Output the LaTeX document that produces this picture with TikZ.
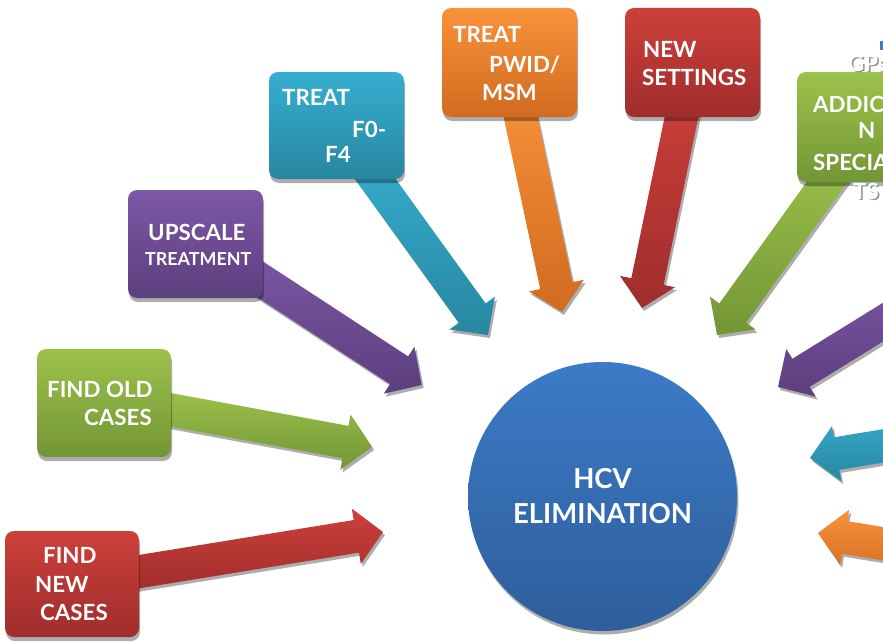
\documentclass[tikz,border=0pt]{standalone}
\usepackage{fontspec}
\setmainfont{Lato}
\usetikzlibrary{calc}

\definecolor{redtop}{HTML}{CD403A}
\definecolor{redbot}{HTML}{9F2D2D}
\definecolor{greentop}{HTML}{9CC24B}
\definecolor{greenbot}{HTML}{739636}
\definecolor{purpletop}{HTML}{7D58A6}
\definecolor{purplebot}{HTML}{5C3F7E}
\definecolor{tealtop}{HTML}{36AED0}
\definecolor{tealbot}{HTML}{2887A0}
\definecolor{orangetop}{HTML}{F9923A}
\definecolor{orangebot}{HTML}{D06B20}
\definecolor{bluetop}{HTML}{3C7BC7}
\definecolor{bluebot}{HTML}{2E5E9B}

% block arrow outline from a start point (#1) to a tip (#2)
\newcommand\arrowpoly[3]{%
  \coordinate (ab) at ($(#2)!27pt!(#1)$);
  \path[#3] ($(#1)!16.5pt!90:(#2)$) -- ($(ab)!16.5pt!90:(#2)$) -- ($(ab)!28pt!90:(#2)$) -- (#2)
    -- ($(ab)!28pt!-90:(#2)$) -- ($(ab)!16.5pt!-90:(#2)$) -- ($(#1)!16.5pt!-90:(#2)$) -- cycle;}
% shaded block arrow with its cast shadow
\newcommand\hcvarrow[3]{%
  \coordinate (sh1) at ($(#1)+(2,3)$);
  \coordinate (sh2) at ($(#2)+(2,3)$);
  \arrowpoly{sh1}{sh2}{fill=black, opacity=.32}
  \arrowpoly{#1}{#2}{top color=#3top, bottom color=#3bot}}
% rounded card: name, left, top, right, bottom, colour
\newcommand\hcvcard[6]{%
  \fill[black, opacity=.32, rounded corners=9pt] (#2+1,#3+4) rectangle (#4+1,#5+4);
  \node[cardbox, top color=#6top, bottom color=#6bot, minimum width=#4-#2, minimum height=#5-#3]
    (#1) at ({(#2+#4)/2},{(#3+#5)/2}) {};}

\begin{document}
\begin{tikzpicture}[x=1pt,y=-1pt,
  cardbox/.style={rectangle, rounded corners=9pt, inner sep=0pt, outer sep=0pt},
  lbl/.style={text=white, font=\bfseries\fontsize{22.3}{22.3}\selectfont, inner sep=0pt, anchor=base west},
  lblsmall/.style={lbl, font=\bfseries\fontsize{17.9}{17.9}\selectfont},
  lblghost/.style={lbl, text=black!45}]
\useasboundingbox (0,0) rectangle (883,642);
\clip (0,0) rectangle (883,642);

% arrow ends
\coordinate (a1t) at (383,532);   \coordinate (a1s) at ($(140,571.5)!-30pt!(a1t)$);
\coordinate (a2t) at (372,447);   \coordinate (a2s) at ($(172,410)!-30pt!(a2t)$);
\coordinate (a3t) at (421.7,385); \coordinate (a3s) at ($(255,276)!-30pt!(a3t)$);
\coordinate (a4t) at (488,335);   \coordinate (a4s) at ($(376,180)!-30pt!(a4t)$);
\coordinate (a5t) at (562,312);   \coordinate (a5s) at ($(520.5,117)!-30pt!(a5t)$);
\coordinate (a6t) at (642,308);   \coordinate (a6s) at ($(681.5,117)!-30pt!(a6t)$);
\coordinate (a7t) at (717,335);   \coordinate (a7s) at ($(827,182)!-30pt!(a7t)$);
\coordinate (a8t) at (778,387);   \coordinate (a8s) at (948,282);
\coordinate (a9t) at (810,458);   \coordinate (a9s) at (1000,426.5);
\coordinate (a10t) at (818,533);  \coordinate (a10s) at (1000,563);

\hcvarrow{a1s}{a1t}{red}
\hcvarrow{a2s}{a2t}{green}
\hcvarrow{a3s}{a3t}{purple}
\hcvarrow{a4s}{a4t}{teal}
\hcvarrow{a5s}{a5t}{orange}
\hcvarrow{a6s}{a6t}{red}
\hcvarrow{a7s}{a7t}{green}
\hcvarrow{a8s}{a8t}{purple}
\hcvarrow{a9s}{a9t}{teal}
\hcvarrow{a10s}{a10t}{orange}

% cards
\hcvcard{findnew}{5}{531}{139}{637}{red}
\hcvcard{findold}{37}{349}{171}{457}{green}
\hcvcard{upscale}{128}{190}{263}{298}{purple}
\hcvcard{treatf}{269}{72}{404}{179}{teal}
\hcvcard{treatpwid}{442}{8}{577}{117}{orange}
\hcvcard{newset}{625}{8}{760}{117}{red}
\hcvcard{addict}{797}{72}{932}{182}{green}

% central circle
\fill[black, opacity=.32] (604,500) circle (134.5);
\node[circle, inner sep=0pt, minimum size=269pt, top color=bluetop, bottom color=bluebot,
  text=white, align=center, font=\bfseries\fontsize{27.5}{35}\selectfont] (hcv) at (602.5,496.5)
  {HCV\\ELIMINATION};

% card labels
\node[lbl] (fn1) at (43,563) {FIND};
\node[lbl] (fn2) at (35,592) {NEW};
\node[lbl] (fn3) at (40,620) {CASES};
\node[lbl] (fo1) at (47,397) {FIND OLD};
\node[lbl] (fo2) at (84,425) {CASES};
\node[lbl] (up1) at (148,240) {UPSCALE};
\node[lblsmall] (up2) at (145,265) {TREATMENT};
\node[lbl] (tf1) at (282,105) {TREAT};
\node[lbl] (tf2) at (352,137) {F0-};
\node[lbl] (tf3) at (325,162) {F4};
\node[lbl] (tp1) at (453,43) {TREAT};
\node[lbl] (tp2) at (489,72) {PWID/};
\node[lbl] (tp3) at (482,100) {MSM};
\node[lbl] (ns1) at (643,57) {NEW};
\node[lbl] (ns2) at (642,85) {SETTINGS};
\node[lbl] (ad2) at (813,112) {ADDICTIO};
\node[lbl] (ad3) at (858,138) {N};
\node[lbl] (ad4) at (813,170) {SPECIALIS};
% label lines running off the green card
\node[lblghost] (ad1s) at (849.5,72.5) {GPs/};
\node[lbl] (ad1) at (848,71) {GPs/};
\node[lblghost] (ad5s) at (854.5,200.5) {TS};
\node[lbl] (ad5) at (853,199) {TS};

% small blue mark at the top edge
\fill[bluetop] (879.5,41) rectangle (883,50);
\end{tikzpicture}
\end{document}
